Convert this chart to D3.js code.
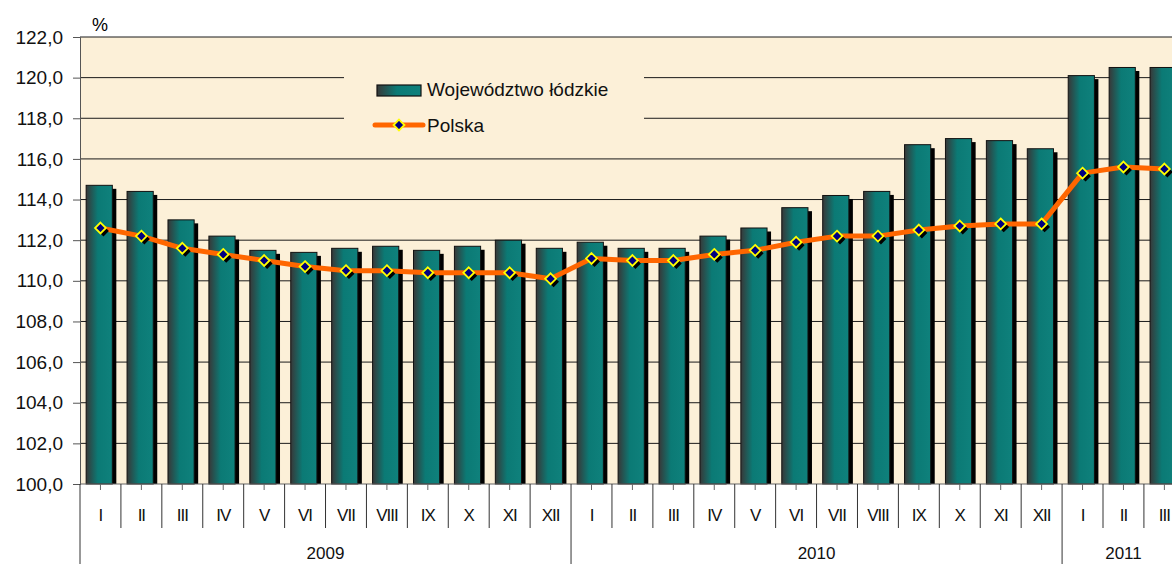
<!DOCTYPE html>
<html>
<head>
<meta charset="utf-8">
<script src="https://cdn.jsdelivr.net/npm/d3@7"></script>
<style>
    body { margin: 0; background: #ffffff; }
    svg { display: block; font-family: Arial, "Liberation Sans", sans-serif; }
</style>
</head>
<body>
<div id="chart"></div>
<script>
// Data
var years = ["2009", "2010", "2011"];
var yearLengths = [12, 12, 3];
var months = ["I", "II", "III", "IV", "V", "VI", "VII", "VIII", "IX", "X", "XI", "XII",
              "I", "II", "III", "IV", "V", "VI", "VII", "VIII", "IX", "X", "XI", "XII",
              "I", "II", "III"];
var lodzkie = [114.7, 114.4, 113.0, 112.2, 111.5, 111.4, 111.6, 111.7, 111.5, 111.7, 112.0, 111.6,
               111.9, 111.6, 111.6, 112.2, 112.6, 113.6, 114.2, 114.4, 116.7, 117.0, 116.9, 116.5,
               120.1, 120.5, 120.5];
var polska = [112.6, 112.2, 111.6, 111.3, 111.0, 110.7, 110.5, 110.5, 110.4, 110.4, 110.4, 110.1,
              111.1, 111.0, 111.0, 111.3, 111.5, 111.9, 112.2, 112.2, 112.5, 112.7, 112.8, 112.8,
              115.3, 115.6, 115.5];
var yTicks = [100, 102, 104, 106, 108, 110, 112, 114, 116, 118, 120, 122];
var seriesNames = ["Województwo łódzkie", "Polska"];

function init() {
    var w = 1172;
    var h = 564;
    var left = 80, top = 37, bottom = 484;
    var step = 40.92;

    var svg = d3.select("#chart")
                .append("svg")
                .attr("width", w)
                .attr("height", h);

    var defs = svg.append("defs");
    var grad = defs.append("linearGradient")
                   .attr("id", "barGrad")
                   .attr("x1", "0%").attr("x2", "100%")
                   .attr("y1", "0%").attr("y2", "0%");
    grad.append("stop").attr("offset", "0%").attr("stop-color", "#383838");
    grad.append("stop").attr("offset", "45%").attr("stop-color", "#0b7a75");
    grad.append("stop").attr("offset", "100%").attr("stop-color", "#0f817c");

    var xScale = d3.scaleBand()
                   .domain(d3.range(months.length))
                   .range([left, left + step * months.length]);

    var yScale = d3.scaleLinear()
                   .domain([100, 122])
                   .range([bottom, top]);

    // plot background
    svg.append("rect")
       .attr("x", left).attr("y", top)
       .attr("width", w - left).attr("height", bottom - top)
       .attr("fill", "#fcf0d8");

    // gridlines
    svg.append("g")
       .selectAll("line")
       .data(yTicks.filter(function(d) { return d > 100; }))
       .enter()
       .append("line")
       .attr("x1", left).attr("x2", w)
       .attr("y1", function(d) { return yScale(d); })
       .attr("y2", function(d) { return yScale(d); })
       .attr("stroke", "#1a1a1a")
       .attr("stroke-width", 1);

    // legend box hides gridlines behind it
    svg.append("rect")
       .attr("x", 344).attr("y", 60)
       .attr("width", 300).attr("height", 84)
       .attr("fill", "#fcf0d8");

    // y axis
    var yAxis = d3.axisLeft(yScale)
                  .tickValues(yTicks)
                  .tickSize(7)
                  .tickPadding(10)
                  .tickFormat(function(d) { return d3.format(".1f")(d).replace(".", ","); });
    var yg = svg.append("g")
                .attr("transform", "translate(" + left + ",0)")
                .call(yAxis);
    yg.select(".domain").attr("stroke", "#555");
    yg.selectAll(".tick line").attr("stroke", "#555");
    yg.selectAll("text")
      .attr("font-size", "19px")
      .attr("fill", "#111")
      .attr("font-family", "Arial, 'Liberation Sans', sans-serif");

    svg.append("text")
       .attr("x", 92).attr("y", 31)
       .attr("font-size", "18px")
       .text("%");

    var bw = xScale.bandwidth() * 0.64;
    var bo = xScale.bandwidth() * 0.15;

    // bar shadows
    svg.append("g")
       .selectAll("rect")
       .data(lodzkie)
       .enter()
       .append("rect")
       .attr("x", function(d, i) { return xScale(i) + bo + 4; })
       .attr("y", function(d) { return yScale(d) + 3.5; })
       .attr("width", bw)
       .attr("height", function(d) { return bottom - yScale(d) - 3.5; })
       .attr("fill", "#000");

    // bars
    svg.append("g")
       .selectAll("rect")
       .data(lodzkie)
       .enter()
       .append("rect")
       .attr("x", function(d, i) { return xScale(i) + bo; })
       .attr("y", function(d) { return yScale(d); })
       .attr("width", bw)
       .attr("height", function(d) { return bottom - yScale(d); })
       .attr("fill", "url(#barGrad)")
       .attr("stroke", "#111")
       .attr("stroke-width", 1);

    // x axis line
    svg.append("line")
       .attr("x1", left).attr("x2", w)
       .attr("y1", bottom).attr("y2", bottom)
       .attr("stroke", "#666");

    // small ticks at category centres
    svg.append("g")
       .selectAll("line")
       .data(months)
       .enter()
       .append("line")
       .attr("x1", function(d, i) { return xScale(i) + xScale.bandwidth() / 2; })
       .attr("x2", function(d, i) { return xScale(i) + xScale.bandwidth() / 2; })
       .attr("y1", bottom).attr("y2", bottom + 6)
       .attr("stroke", "#666");

    // year start indices
    var starts = [0];
    yearLengths.forEach(function(n, i) { starts.push(starts[i] + n); });

    // category separators
    svg.append("g")
       .selectAll("line")
       .data(d3.range(months.length + 1))
       .enter()
       .append("line")
       .attr("x1", function(i) { return left + i * step; })
       .attr("x2", function(i) { return left + i * step; })
       .attr("y1", bottom)
       .attr("y2", function(i) { return starts.indexOf(i) >= 0 ? h : 528; })
       .attr("stroke", "#333");

    // month labels
    svg.append("g")
       .selectAll("text")
       .data(months)
       .enter()
       .append("text")
       .attr("x", function(d, i) { return xScale(i) + xScale.bandwidth() / 2; })
       .attr("y", 521)
       .attr("text-anchor", "middle")
       .attr("font-size", "17px")
       .attr("letter-spacing", "-1px")
       .attr("fill", "#111")
       .text(function(d) { return d; });

    // year labels
    svg.append("g")
       .selectAll("text")
       .data(years)
       .enter()
       .append("text")
       .attr("x", function(d, i) { return left + (starts[i] + yearLengths[i] / 2) * step; })
       .attr("y", 559)
       .attr("text-anchor", "middle")
       .attr("font-size", "17px")
       .attr("fill", "#111")
       .text(function(d) { return d; });

    // Polska line
    var line = d3.line()
                 .x(function(d, i) { return xScale(i) + xScale.bandwidth() / 2; })
                 .y(function(d) { return yScale(d); });

    svg.append("path")
       .datum(polska)
       .attr("d", line)
       .attr("fill", "none")
       .attr("stroke", "#ff6600")
       .attr("stroke-width", 5)
       .attr("stroke-linejoin", "round");

    var diamond = d3.symbol().type(d3.symbolDiamond2).size(75);

    // marker shadows
    svg.append("g")
       .selectAll("path")
       .data(polska)
       .enter()
       .append("path")
       .attr("d", diamond)
       .attr("transform", function(d, i) {
           return "translate(" + (xScale(i) + xScale.bandwidth() / 2 + 3) + "," + (yScale(d) + 3) + ")";
       })
       .attr("fill", "#000");

    // markers
    svg.append("g")
       .selectAll("path")
       .data(polska)
       .enter()
       .append("path")
       .attr("d", diamond)
       .attr("transform", function(d, i) {
           return "translate(" + (xScale(i) + xScale.bandwidth() / 2) + "," + yScale(d) + ")";
       })
       .attr("fill", "#000080")
       .attr("stroke", "#ffff00")
       .attr("stroke-width", 1.8);

    // legend
    var lg = svg.append("g");
    lg.append("rect")
      .attr("x", 377).attr("y", 85)
      .attr("width", 44).attr("height", 11)
      .attr("fill", "url(#barGrad)")
      .attr("stroke", "#111")
      .attr("stroke-width", 1.2);
    lg.append("text")
      .attr("x", 427).attr("y", 96)
      .attr("font-size", "19px")
      .attr("fill", "#111")
      .text(seriesNames[0]);
    lg.append("line")
      .attr("x1", 375).attr("x2", 423)
      .attr("y1", 125).attr("y2", 125)
      .attr("stroke", "#ff6600")
      .attr("stroke-width", 5)
      .attr("stroke-linecap", "round");
    lg.append("path")
      .attr("d", diamond)
      .attr("transform", "translate(399,125)")
      .attr("fill", "#000080")
      .attr("stroke", "#ffff00")
      .attr("stroke-width", 1.8);
    lg.append("text")
      .attr("x", 427).attr("y", 132)
      .attr("font-size", "19px")
      .attr("fill", "#111")
      .text(seriesNames[1]);
}

window.onload = init;
</script>
</body>
</html>
